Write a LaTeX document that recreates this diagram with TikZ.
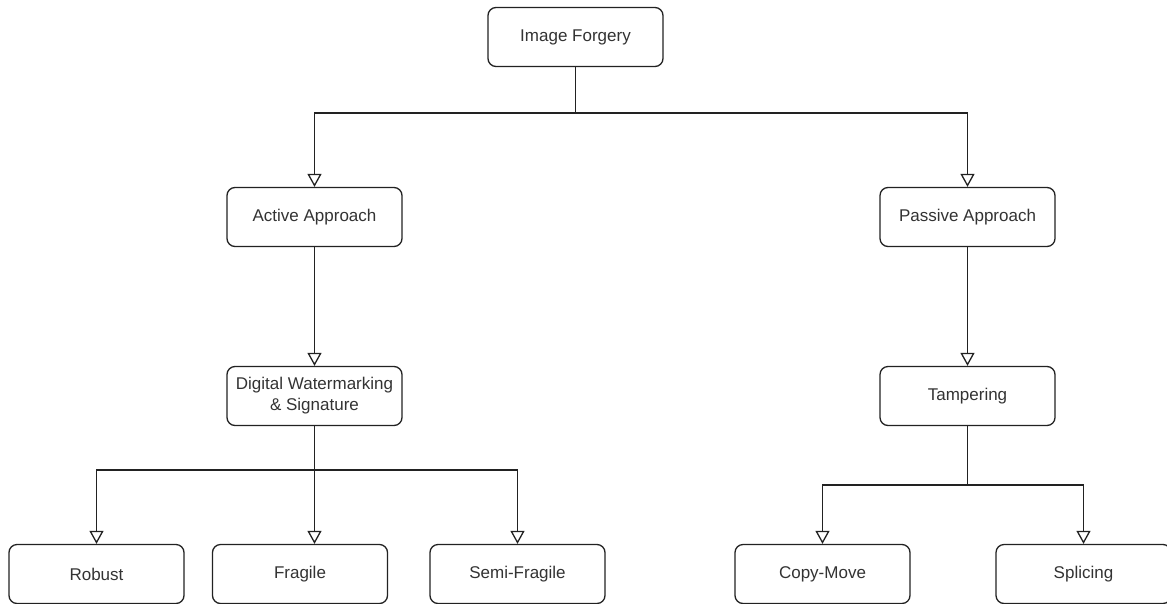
\documentclass[tikz,border=0pt]{standalone}
\usepackage{fontspec}
\setmainfont{Liberation Sans}
\usetikzlibrary{arrows.meta}
\definecolor{txt}{HTML}{333333}
\definecolor{ln}{HTML}{222222}
\tikzset{
  box/.style={draw=ln, line width=1.3pt, rounded corners=8pt, minimum width=175pt, minimum height=59pt, inner sep=0pt, align=center, font=\fontsize{17}{21}\selectfont, text=txt, fill=white},
  conn/.style={draw=ln, line width=1.3pt, -{Triangle[open, width=14pt, length=13pt, line width=1.3pt]}},
  plain/.style={draw=ln, line width=1.3pt}
}
\begin{document}
\begin{tikzpicture}[x=1pt, y=-1pt]
\useasboundingbox (0,0) rectangle (1167,603);
\clip (0,0) rectangle (1167,603);
\node[box] (root) at (575.5,37) {Image Forgery};
\node[box] (act) at (314.5,217) {Active Approach};
\node[box] (pas) at (967.5,217) {Passive Approach};
\node[box] (dw) at (314.5,396) {Digital Watermarking\\\& Signature};
\node[box] (tam) at (967.5,396) {Tampering};
\node[box] (rob) at (96.5,574) {Robust};
\node[box] (fra) at (300,574) {Fragile};
\node[box] (semi) at (517.5,574) {Semi-Fragile};
\node[box] (cm) at (822.5,574) {Copy-Move};
\node[box] (spl) at (1083.5,574) {Splicing};
\coordinate (j1) at (575.5,113);
\coordinate (j2) at (314.5,470);
\coordinate (j3) at (967.5,485);
\draw[plain] (root.south) -- (j1);
\draw[conn] (j1) -| (act.north);
\draw[conn] (j1) -| (pas.north);
\draw[conn] (act.south) -- (dw.north);
\draw[conn] (pas.south) -- (tam.north);
\draw[plain] (dw.south) -- (j2);
\draw[conn] (j2) -| (rob.north);
\draw[conn] (j2) -- (j2 |- fra.north);
\draw[conn] (j2) -| (semi.north);
\draw[plain] (tam.south) -- (j3);
\draw[conn] (j3) -| (cm.north);
\draw[conn] (j3) -| (spl.north);
\end{tikzpicture}
\end{document}
